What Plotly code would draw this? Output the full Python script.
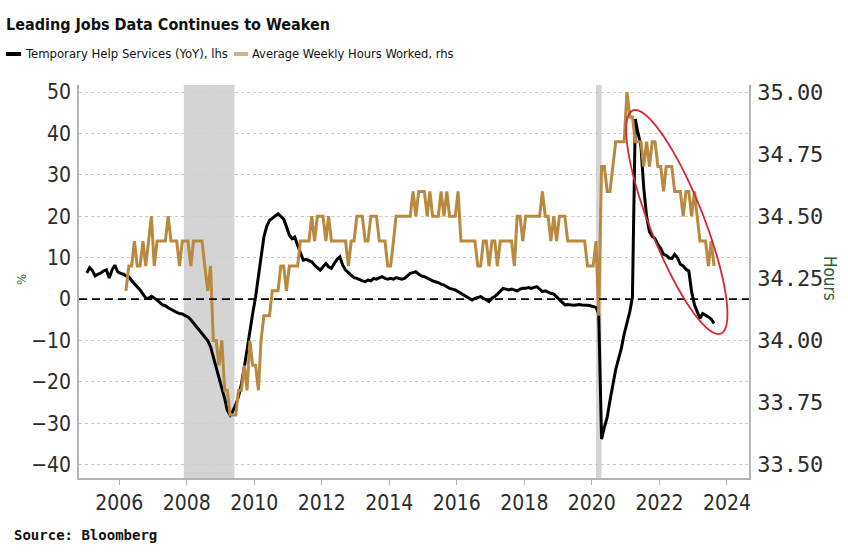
import math
import pandas as pd
import plotly.graph_objects as go

# ---------------- data ----------------
temp_help_start = "2005-01"
temp_help_yoy = [
    # 2005
    6.3, 7.6, 7.0, 5.6, 6.0, 6.3, 6.8, 7.1, 5.1, 7.0, 8.2, 6.6,
    # 2006
    6.2, 6.0, 5.6, 5.4, 4.5, 3.8, 3.0, 2.2, 1.2, 0.3, 0.2, 0.7,
    # 2007
    0.3, -0.2, -0.8, -1.4, -1.6, -2.1, -2.5, -2.7, -3.2, -3.5, -3.6, -4.0,
    # 2008
    -4.3, -5.0, -5.8, -6.7, -7.5, -8.3, -9.2, -10.0, -11.5, -14.0, -16.5, -19.0,
    # 2009
    -21.0, -24.0, -26.8, -28.0, -27.0, -25.5, -23.5, -20.5, -16.5, -12.0, -7.5, -3.5,
    # 2010
    0.5, 5.5, 11.0, 15.0, 17.5, 19.0, 19.5, 20.0, 20.6, 20.0, 19.3, 17.5,
    # 2011
    15.5, 14.6, 15.0, 13.0, 11.0, 9.4, 9.6, 9.2, 9.0, 8.2, 7.6, 7.0,
    # 2012
    7.8, 8.6, 7.8, 7.4, 8.6, 9.6, 10.2, 8.2, 7.0, 6.4, 5.8, 5.2,
    # 2013
    5.0, 4.6, 4.4, 4.2, 4.6, 4.4, 5.0, 4.8, 5.2, 5.4, 5.0, 4.8,
    # 2014
    5.0, 4.8, 5.2, 5.0, 4.8, 5.0, 5.6, 6.2, 6.4, 6.6, 6.0, 5.6,
    # 2015
    5.4, 5.0, 4.6, 4.4, 4.2, 4.0, 3.6, 3.4, 3.0, 2.6, 2.4, 2.2,
    # 2016
    1.8, 1.4, 1.0, 0.6, 0.2, -0.2, 0.2, 0.4, 0.6, 0.2, -0.3, -0.6,
    # 2017
    0.2, 0.6, 1.2, 1.8, 2.6, 2.4, 2.2, 2.4, 2.2, 2.0, 2.4, 2.6,
    # 2018
    2.6, 2.8, 2.6, 2.8, 3.0, 2.4, 1.8, 2.0, 1.6, 1.4, 1.2, 0.6,
    # 2019
    -0.2, -0.8, -1.4, -1.3, -1.4, -1.5, -1.4, -1.3, -1.4, -1.4, -1.5, -1.6,
    # 2020
    -1.8, -2.0, -3.5, -33.8, -31.0, -28.5, -24.5, -20.8, -17.0, -14.5, -11.9, -8.5,
    # 2021
    -6.0, -3.0, 0.5, 43.5, 40.0, 37.0, 27.0, 20.0, 16.3, 15.2, 14.6, 13.2,
    # 2022
    12.2, 10.8, 10.6, 9.9, 9.8, 10.8, 10.0, 8.4, 8.0, 7.2, 6.8, 1.8,
    # 2023
    -1.4, -3.1, -4.7, -3.5, -3.8, -4.3, -4.8, -5.9,
]

hours_start = "2006-03"
weekly_hours = [
    # 2006 (Mar-Dec)
    34.2, 34.3, 34.3, 34.4, 34.3, 34.3, 34.4, 34.3, 34.4, 34.5,
    # 2007
    34.3, 34.4, 34.4, 34.4, 34.4, 34.5, 34.4, 34.4, 34.4, 34.3, 34.4, 34.4,
    # 2008
    34.4, 34.3, 34.4, 34.4, 34.4, 34.4, 34.3, 34.2, 34.3, 34.0, 34.0, 33.9,
    # 2009
    34.0, 33.8, 33.8, 33.7, 33.7, 33.7, 33.8, 33.8, 33.9, 33.8, 34.0, 33.9,
    # 2010
    33.9, 33.8, 34.0, 34.1, 34.1, 34.1, 34.2, 34.2, 34.2, 34.3, 34.3, 34.2,
    # 2011
    34.3, 34.3, 34.3, 34.3, 34.4, 34.4, 34.4, 34.4, 34.5, 34.4, 34.5, 34.5,
    # 2012
    34.5, 34.4, 34.5, 34.4, 34.4, 34.4, 34.4, 34.4, 34.4, 34.3, 34.4, 34.4,
    # 2013
    34.5, 34.5, 34.5, 34.4, 34.4, 34.5, 34.5, 34.5, 34.4, 34.4, 34.4, 34.3,
    # 2014
    34.3, 34.4, 34.5, 34.5, 34.5, 34.5, 34.5, 34.5, 34.6, 34.5, 34.6, 34.6,
    # 2015
    34.6, 34.5, 34.6, 34.5, 34.5, 34.5, 34.6, 34.5, 34.6, 34.5, 34.5, 34.5,
    # 2016
    34.6, 34.4, 34.4, 34.4, 34.4, 34.4, 34.4, 34.3, 34.3, 34.4, 34.4, 34.3,
    # 2017
    34.4, 34.4, 34.3, 34.4, 34.4, 34.4, 34.4, 34.4, 34.3, 34.5, 34.5, 34.4,
    # 2018
    34.5, 34.5, 34.5, 34.5, 34.5, 34.5, 34.6, 34.5, 34.5, 34.4, 34.5, 34.4,
    # 2019
    34.5, 34.5, 34.5, 34.4, 34.4, 34.4, 34.4, 34.4, 34.4, 34.4, 34.3, 34.3,
    # 2020
    34.3, 34.4, 34.1, 34.7, 34.7, 34.6, 34.6, 34.7, 34.8, 34.8, 34.8, 34.8,
    # 2021
    35.0, 34.9, 34.9, 34.8, 34.8, 34.8, 34.7, 34.8, 34.7, 34.8, 34.8, 34.7,
    # 2022
    34.7, 34.6, 34.7, 34.7, 34.7, 34.6, 34.6, 34.6, 34.5, 34.6, 34.6, 34.5,
    # 2023
    34.6, 34.5, 34.4, 34.4, 34.4, 34.3, 34.4, 34.3,
]

recession_periods = [("2007-12-01", "2009-06-01"), ("2020-02-15", "2020-04-15")]
left_ticks = list(range(-40, 51, 10))
right_ticks = [33.50, 33.75, 34.00, 34.25, 34.50, 34.75, 35.00]
year_ticks = list(range(2006, 2025, 2))

series_names = ["Temporary Help Services (YoY), lhs", "Average Weekly Hours Worked, rhs"]
title_text = "Leading Jobs Data Continues to Weaken"
source_text = "Source: Bloomberg"

# ---------------- styling ----------------
BLACK = "#000000"
GOLD = "#b8893f"
GRID = "#cccccc"
AXIS = "#b4b4b4"
SHADE = "#d4d4d4"
LABEL_GREEN = "#2f5a3c"
TICK_COLOR = "#2b2b2b"
NARROW = "DejaVu Sans Condensed, sans-serif"
TICKFONT = "DejaVu Sans Condensed, DejaVu Sans, sans-serif"
MONO = "DejaVu Sans Mono, Liberation Mono, monospace"

W, H = 848, 554
ML, MR, MT, MB = 79, 99, 85, 76

y_left_range = [-43.2, 51.7]
# right axis aligned so that 50 <-> 35.00 and -40 <-> 33.50
def to_hours(v):
    return 35.0 + (v - 50.0) / 60.0
y_right_range = [to_hours(y_left_range[0]), to_hours(y_left_range[1])]

th_dates = pd.date_range(temp_help_start, periods=len(temp_help_yoy), freq="MS") + pd.Timedelta(days=14)
hr_dates = pd.date_range(hours_start, periods=len(weekly_hours), freq="MS") + pd.Timedelta(days=14)

fig = go.Figure()
fig.add_trace(go.Scatter(x=hr_dates, y=weekly_hours, name=series_names[1], mode="lines",
                         line=dict(color=GOLD, width=3), yaxis="y2", showlegend=False))
fig.add_trace(go.Scatter(x=th_dates, y=temp_help_yoy, name=series_names[0], mode="lines",
                         line=dict(color=BLACK, width=3), yaxis="y", showlegend=False))

shapes = []
for a, b in recession_periods:
    shapes.append(dict(type="rect", xref="x", yref="paper", x0=a, x1=b, y0=0, y1=1,
                       fillcolor=SHADE, line=dict(width=0), layer="below"))
# zero line
shapes.append(dict(type="line", xref="paper", yref="y", x0=0, x1=1, y0=0, y1=0,
                   line=dict(color=BLACK, width=1.9, dash="8px,5px"), layer="above"))

# red ellipse highlight (rotated), drawn in pixel offsets around an anchor point
ell_center = ("2022-07-08", 18.6)
ell_a, ell_b, ell_tilt = 120, 27, math.radians(21.5)
pts = []
for i in range(73):
    t = 2 * math.pi * i / 72
    dx = ell_a * math.cos(t) * math.sin(ell_tilt) + ell_b * math.sin(t) * math.cos(ell_tilt)
    dy = ell_a * math.cos(t) * math.cos(ell_tilt) - ell_b * math.sin(t) * math.sin(ell_tilt)
    pts.append((dx, -dy))
path = "M " + " L ".join(f"{x:.2f},{y:.2f}" for x, y in pts) + " Z"
shapes.append(dict(type="path", xref="x", yref="y", xsizemode="pixel", ysizemode="pixel",
                   xanchor=ell_center[0], yanchor=ell_center[1], path=path,
                   line=dict(color="#d02a36", width=1.8), layer="above"))

# manual legend (line samples)
def px_to_paper_x(px):
    return (px - ML) / (W - ML - MR)
def px_to_paper_y(py):
    return (H - MB - py) / (H - MT - MB)

leg_y = px_to_paper_y(54)
shapes.append(dict(type="line", xref="paper", yref="paper", x0=px_to_paper_x(6), x1=px_to_paper_x(21),
                   y0=leg_y, y1=leg_y, line=dict(color=BLACK, width=4)))
shapes.append(dict(type="line", xref="paper", yref="paper", x0=px_to_paper_x(234), x1=px_to_paper_x(248),
                   y0=leg_y, y1=leg_y, line=dict(color="#c9b48c", width=4)))

annotations = [
    dict(text=series_names[0], xref="paper", yref="paper", x=px_to_paper_x(23), y=leg_y,
         xanchor="left", yanchor="middle", showarrow=False,
         font=dict(family=NARROW, size=13, color="#111111")),
    dict(text=series_names[1], xref="paper", yref="paper", x=px_to_paper_x(250), y=leg_y,
         xanchor="left", yanchor="middle", showarrow=False,
         font=dict(family=NARROW, size=12.8, color="#111111")),
    dict(text=source_text, xref="paper", yref="paper", x=px_to_paper_x(12), y=px_to_paper_y(535),
         xanchor="left", yanchor="middle", showarrow=False,
         font=dict(family=MONO, size=14, color="#111111", weight="bold")),
    dict(text="%", xref="paper", yref="paper", x=px_to_paper_x(21), y=px_to_paper_y(279),
         xanchor="center", yanchor="middle", showarrow=False, textangle=-90,
         font=dict(family=TICKFONT, size=13, color=LABEL_GREEN)),
    dict(text="Hours", xref="paper", yref="paper", x=px_to_paper_x(830), y=px_to_paper_y(278),
         xanchor="center", yanchor="middle", showarrow=False, textangle=90,
         font=dict(family=TICKFONT, size=17, color=LABEL_GREEN)),
]

fig.update_layout(
    width=W, height=H,
    margin=dict(l=ML, r=MR, t=MT, b=MB),
    paper_bgcolor="white", plot_bgcolor="white",
    title=dict(text=title_text, x=6 / W, xanchor="left", xref="container",
               y=1 - 24 / H, yanchor="middle", yref="container",
               font=dict(family=NARROW, size=16, color="#111111", weight="bold")),
    showlegend=False,
    shapes=shapes,
    annotations=annotations,
    xaxis=dict(
        type="date", range=["2004-10-23", "2024-08-27"],
        tickvals=[f"{y}-01-01" for y in year_ticks], ticktext=[str(y) for y in year_ticks],
        ticks="outside", ticklen=5, tickwidth=1, tickcolor=AXIS,
        showline=True, linecolor=AXIS, linewidth=1.5, mirror=False,
        showgrid=False, zeroline=False,
        tickfont=dict(family=TICKFONT, size=21, color=TICK_COLOR),
    ),
    yaxis=dict(
        range=y_left_range, tickvals=left_ticks, ticks="", ticklabelstandoff=2,
        showline=True, linecolor=AXIS, linewidth=1.5,
        showgrid=True, gridcolor=GRID, gridwidth=1, griddash="dot", zeroline=False,
        tickfont=dict(family=TICKFONT, size=21, color=TICK_COLOR),
    ),
    yaxis2=dict(
        range=y_right_range, tickvals=right_ticks, tickformat=".2f", overlaying="y", side="right",
        ticks="", ticklabelstandoff=2,
        showline=True, linecolor=AXIS, linewidth=1.5, showgrid=False, zeroline=False,
        tickfont=dict(family=MONO, size=22, color=TICK_COLOR),
    ),
)

fig.write_html("out.html", config={"displayModeBar": False},
               post_script="document.body.style.margin='0px';")
